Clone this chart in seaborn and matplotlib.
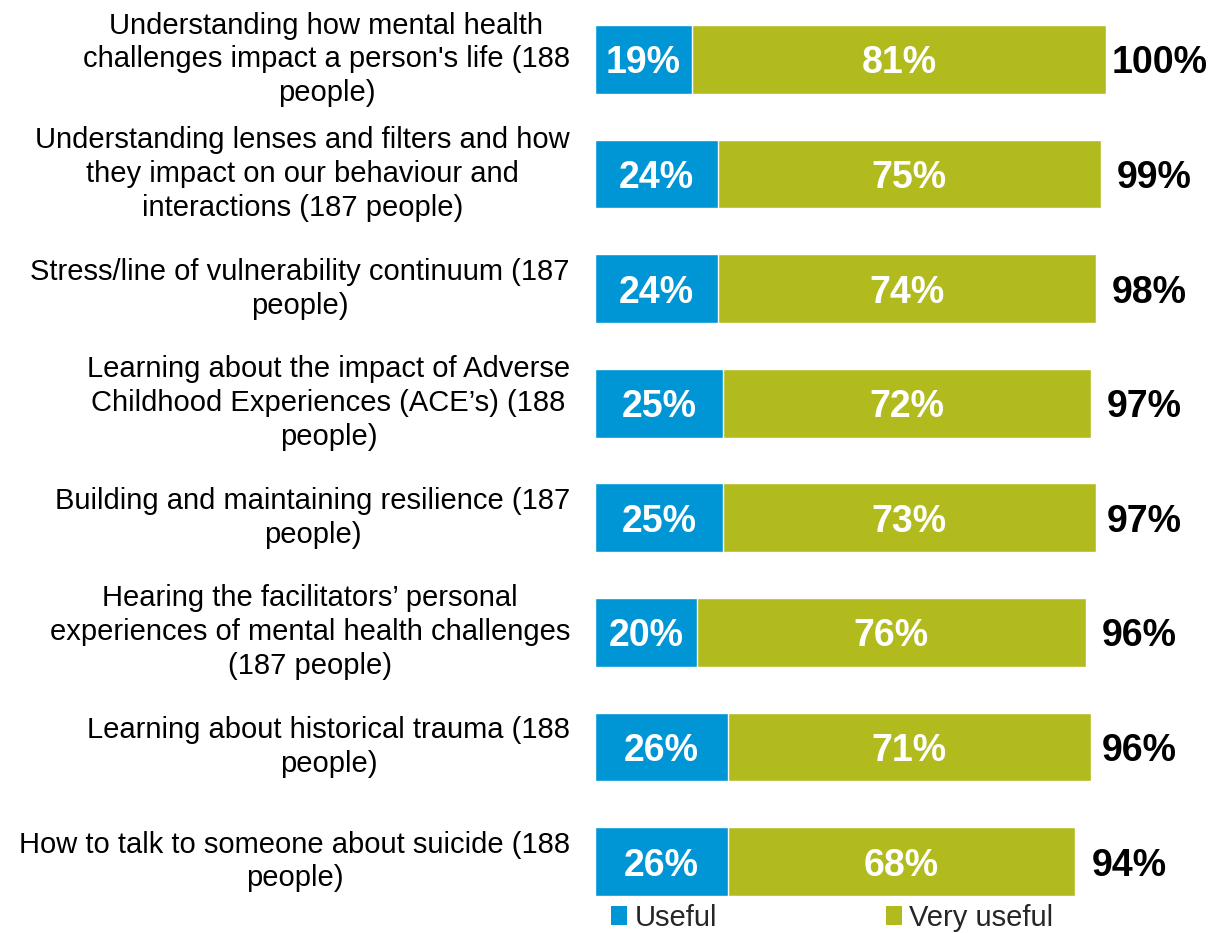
import matplotlib
matplotlib.use("Agg")
import matplotlib.pyplot as plt
from matplotlib.patches import Patch
import pandas as pd
import seaborn as sns

# Survey topics and the share of participants who rated each one
categories = [
    "Understanding how mental health\nchallenges impact a person's life (188\npeople)",
    "Understanding lenses and filters and how\nthey impact on our behaviour and\ninteractions (187 people)",
    "Stress/line of vulnerability continuum (187\npeople)",
    "Learning about the impact of Adverse\nChildhood Experiences (ACE\u2019s) (188\npeople)",
    "Building and maintaining resilience (187\npeople)",
    "Hearing the facilitators\u2019 personal\nexperiences of mental health challenges\n(187 people)",
    "Learning about historical trauma (188\npeople)",
    "How to talk to someone about suicide (188\npeople)",
]
useful = [19, 24, 24, 25, 25, 20, 26, 26]
very_useful = [81, 75, 74, 72, 73, 76, 71, 68]
total_labels = [100, 99, 98, 97, 97, 96, 96, 94]

BLUE = "#0096D6"
GREEN = "#B2BB1E"

df = pd.DataFrame({
    "category": categories,
    "useful": useful,
    "very_useful": very_useful,
})
df["stack"] = df["useful"] + df["very_useful"]

sns.set_style("white")
plt.rcParams["font.family"] = ["Liberation Sans", "DejaVu Sans"]

fig = plt.figure(figsize=(12.14, 9.33), dpi=100)
ax = fig.add_axes([595 / 1214, 1 - 918.8 / 933, 511 / 1214, 916.6 / 933])

# Stacked horizontal bars: full stack in green, "useful" share drawn over it in blue
sns.barplot(data=df, x="stack", y="category", orient="h", color=GREEN,
            saturation=1, width=0.6, edgecolor="white", linewidth=1, ax=ax)
sns.barplot(data=df, x="useful", y="category", orient="h", color=BLUE,
            saturation=1, width=0.6, edgecolor="white", linewidth=1, ax=ax)

ax.set_xlim(0, 100)
ax.set_ylim(len(categories) - 0.5, -0.5)
ax.set_xlabel("")
ax.set_ylabel("")
ax.set_xticks([])
for s in ax.spines.values():
    s.set_visible(False)
ax.tick_params(axis="y", length=0, pad=18, labelsize=21)
for lab in ax.get_yticklabels():
    lab.set_multialignment("center")
    lab.set_verticalalignment("center")
    lab.set_linespacing(1.27)
    lab.set_color("black")

# Value labels inside segments and totals to the right
for i, (u, v, t) in enumerate(zip(useful, very_useful, total_labels)):
    ax.text(u / 2, i, f"{u}%", ha="center", va="center_baseline", color="white",
            fontsize=27, fontweight="bold")
    ax.text(u + v / 2, i, f"{v}%", ha="center", va="center_baseline", color="white",
            fontsize=27, fontweight="bold")
    ax.text(t + 10.5, i, f"{t}%", ha="center", va="center_baseline", color="black",
            fontsize=27, fontweight="bold", clip_on=False)

handles = [Patch(facecolor=BLUE, edgecolor="none", label="Useful"),
           Patch(facecolor=GREEN, edgecolor="none", label="Very useful")]
fig.legend(handles=handles, loc="center left",
           bbox_to_anchor=(611 / 1214, 1 - 918 / 933), ncol=2, frameon=False,
           fontsize=21, handlelength=0.55, handleheight=0.6, handletextpad=0.25,
           columnspacing=5.8, borderpad=0, borderaxespad=0)

fig.savefig("out.png", dpi=100)
